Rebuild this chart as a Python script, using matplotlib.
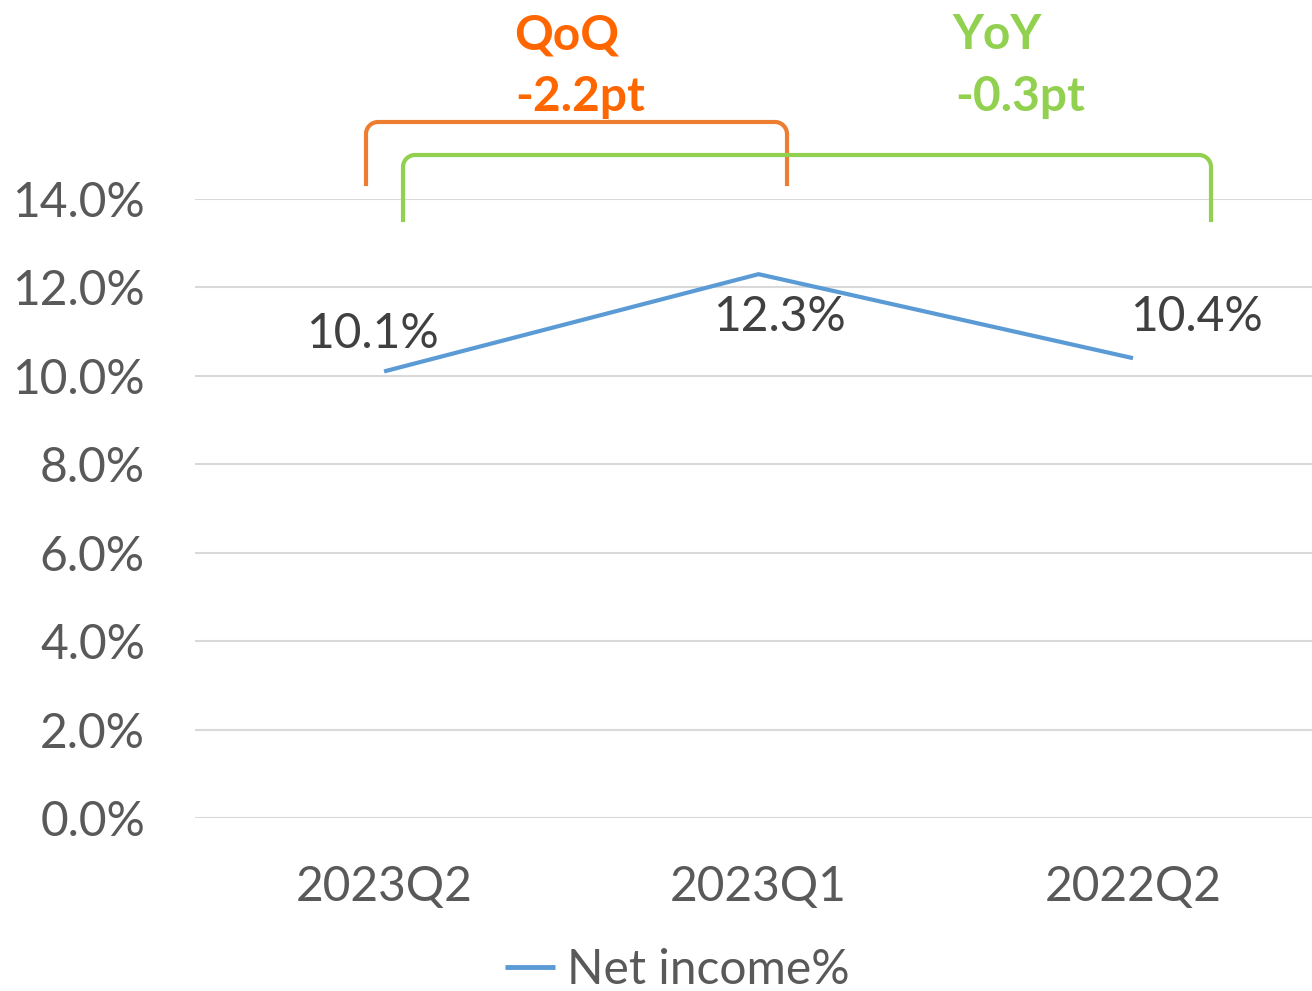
import numpy as np
import matplotlib
matplotlib.use("Agg")
import matplotlib.pyplot as plt
from matplotlib.lines import Line2D

categories = ["2023Q2", "2023Q1", "2022Q2"]
net_income_pct = [10.1, 12.3, 10.4]
series_name = "Net income%"
yticks = [0, 2, 4, 6, 8, 10, 12, 14]
qoq_label = ["QoQ", "-2.2pt"]
yoy_label = ["YoY", "-0.3pt"]

W, H = 1312, 991
FS = 34.5
plt.rcParams['font.family'] = ['Lato', 'DejaVu Sans']
fig = plt.figure(figsize=(W / 100, H / 100), dpi=100)

def fx(x):
    return x / W

def fy(y):
    return 1 - y / H

ax = fig.add_axes([fx(195), fy(818), fx(1312) - fx(195), fy(199) - fy(818)])
x = np.arange(len(categories))
line, = ax.plot(x, net_income_pct, color="#5B9BD5", lw=3.0, solid_capstyle="butt",
                label=series_name)
ax.set_xlim(-0.505, 2.478)
ax.set_ylim(0, 14)
ax.set_yticks(yticks)
ax.set_yticklabels([f"{v:.1f}%" for v in yticks])
ax.set_xticks(x)
ax.set_xticklabels(categories)
ax.grid(axis="y", color="#D9D9D9", lw=1.5)
ax.set_axisbelow(True)
for s in ax.spines.values():
    s.set_visible(False)
ax.tick_params(length=0, labelsize=FS, colors="#595959")
ax.tick_params(axis="y", pad=36)
ax.tick_params(axis="x", pad=34)

# data labels
offsets = [(-12, 37), (21, -43), (63, 41)]
for xi, v, off in zip(x, net_income_pct, offsets):
    ax.annotate(f"{v:.1f}%", (xi, v), xytext=off, textcoords="offset pixels",
                ha="center", va="center", fontsize=FS, color="#404040")

# brackets
def bracket(x0, x1, ytop, ybot, color, r=12):
    t = np.linspace(0, np.pi / 2, 12)
    xs = [x0]
    ys = [ybot]
    xs += list(x0 + r - r * np.cos(t))
    ys += list(ytop + r - r * np.sin(t))
    xs += list(x1 - r + r * np.sin(t))
    ys += list(ytop + r - r * np.cos(t))
    xs.append(x1)
    ys.append(ybot)
    fig.add_artist(Line2D([fx(v) for v in xs], [fy(v) for v in ys],
                          transform=fig.transFigure, color=color, lw=3.0))

bracket(366, 787, 122, 184, "#ED7D31")
bracket(403, 1211, 155, 220, "#92D050")

fig.text(fx(567), fy(35), qoq_label[0], ha="center", va="center", fontsize=FS,
         fontweight="bold", color="#FF6600")
fig.text(fx(580), fy(97), qoq_label[1], ha="center", va="center", fontsize=FS,
         fontweight="bold", color="#FF6600")
fig.text(fx(997), fy(35), yoy_label[0], ha="center", va="center", fontsize=FS,
         fontweight="bold", color="#92D050")
fig.text(fx(1020), fy(97), yoy_label[1], ha="center", va="center", fontsize=FS,
         fontweight="bold", color="#92D050")

# legend
leg = fig.legend(handles=[line], loc="center", bbox_to_anchor=(fx(677), fy(970)),
                 frameon=False, fontsize=FS, labelcolor="#595959", handlelength=1.05,
                 handletextpad=0.25, borderpad=0)
for h in leg.legend_handles:
    h.set_linewidth(3.5)

fig.savefig("out.png", dpi=100, facecolor="white")
